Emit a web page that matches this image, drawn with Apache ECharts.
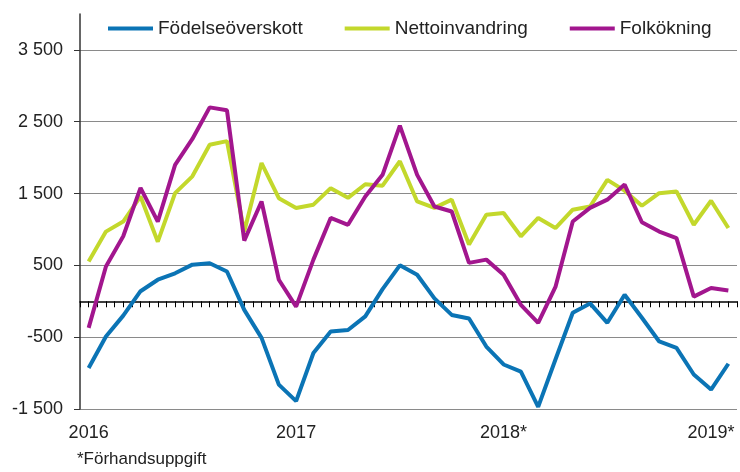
<!DOCTYPE html>
<html>
<head>
<meta charset="utf-8">
<script src="https://cdn.jsdelivr.net/npm/echarts@6/dist/echarts.min.js"></script>
<style>
  html, body { margin: 0; padding: 0; background: #fff; }
  #chart { width: 740px; height: 472px; }
</style>
</head>
<body>
<div id="chart"></div>
<script>
  // monthly, 2016-01 .. 2019-02
  let months = ['2016-01','2016-02','2016-03','2016-04','2016-05','2016-06','2016-07','2016-08','2016-09','2016-10','2016-11','2016-12',
                '2017-01','2017-02','2017-03','2017-04','2017-05','2017-06','2017-07','2017-08','2017-09','2017-10','2017-11','2017-12',
                '2018-01','2018-02','2018-03','2018-04','2018-05','2018-06','2018-07','2018-08','2018-09','2018-10','2018-11','2018-12',
                '2019-01','2019-02'];
  let yearLabels = ['2016', '2017', '2018*', '2019*'];
  let yTicks = [-1500, -500, 500, 1500, 2500, 3500];

  let fodelseoverskott = [-930, -490, -200, 140, 300, 390, 510, 530, 415, -120, -510, -1160,
                          -1390, -720, -420, -400, -210, 170, 500, 370, 40, -190, -240, -630,
                          -880, -980, -1470, -810, -160, -30, -300, 90, -230, -560, -650, -1020,
                          -1230, -870];
  let nettoinvandring = [555, 970, 1110, 1460, 830, 1505, 1740, 2180, 2230, 970, 1925, 1435,
                         1300, 1345, 1575, 1440, 1630, 1610, 1950, 1390, 1300, 1415, 790, 1205,
                         1230, 905, 1160, 1020, 1275, 1320, 1690, 1540, 1330, 1505, 1530, 1065,
                         1400, 1020];
  let folkokning = [-370, 485, 905, 1580, 1110, 1900, 2260, 2700, 2660, 845, 1390, 300,
                    -75, 580, 1160, 1065, 1460, 1760, 2445, 1760, 1320, 1250, 535, 580,
                    370, -50, -300, 200, 1110, 1300, 1415, 1625, 1100, 970, 880, 65,
                    185, 150];

  let font = 'Liberation Sans, Arial, sans-serif';

  function pairs(arr) {
    return arr.map(function (v, i) { return [i, v]; });
  }
  function fmt(v) {
    let s = String(Math.abs(v)).replace(/\B(?=(\d{3})+(?!\d))/g, ' ');
    return (v < 0 ? '-' : '') + s;
  }

  let chart = echarts.init(document.getElementById('chart'));
  let option = {
    animation: false,
    textStyle: { fontFamily: font },
    grid: {
      left: 80,
      right: -1,
      top: 14,
      bottom: 63,
      containLabel: false
    },
    title: {
      text: '*Förhandsuppgift',
      left: 77,
      top: 451,
      padding: 0,
      textStyle: { fontFamily: font, fontSize: 17, fontWeight: 'normal', color: '#222' }
    },
    legend: {
      left: 108,
      top: 19,
      itemWidth: 45,
      itemHeight: 4,
      itemGap: 42,
      icon: 'rect',
      padding: 0,
      textStyle: { fontFamily: font, fontSize: 19, color: '#222' },
      data: ['Födelseöverskott', 'Nettoinvandring', 'Folkökning']
    },
    xAxis: [
      {
        // line on zero with half-month ticks
        type: 'value',
        min: -0.5,
        max: months.length - 0.5,
        interval: 0.5,
        axisLine: { onZero: true, lineStyle: { color: '#000', width: 1.5 } },
        axisTick: { show: true, length: 6, lineStyle: { color: '#000', width: 1 } },
        axisLabel: { show: false },
        splitLine: { show: false }
      },
      {
        // year labels at the bottom
        type: 'value',
        position: 'bottom',
        min: -0.5,
        max: months.length - 0.5,
        interval: 0.5,
        axisLine: { show: false, onZero: false },
        axisTick: { show: false },
        splitLine: { show: false },
        axisLabel: {
          margin: 15,
          fontFamily: font,
          fontSize: 18,
          color: '#222',
          showMinLabel: true,
          showMaxLabel: true,
          formatter: function (v) {
            if (v >= 0 && v % 12 === 0) return yearLabels[v / 12] || '';
            return '';
          }
        }
      }
    ],
    yAxis: {
      type: 'value',
      min: yTicks[0],
      max: 4000,
      interval: 1000,
      axisLine: { show: true, onZero: false, lineStyle: { color: '#333', width: 1.5 } },
      axisTick: { show: true, length: 6, lineStyle: { color: '#333' } },
      axisLabel: {
        margin: 17,
        fontFamily: font,
        fontSize: 18,
        color: '#222',
        showMaxLabel: false,
        formatter: function (v) {
          return yTicks.indexOf(v) >= 0 ? fmt(v) : '';
        }
      },
      splitLine: {
        show: true,
        showMinLine: true,
        showMaxLine: false,
        lineStyle: { color: '#8a8a8a', width: 1.2 }
      }
    },
    series: [
      {
        name: 'Födelseöverskott',
        type: 'line',
        xAxisIndex: 0,
        data: pairs(fodelseoverskott),
        symbol: 'none',
        color: '#0b74b5',
        lineStyle: { width: 4, color: '#0b74b5' }
      },
      {
        name: 'Nettoinvandring',
        type: 'line',
        xAxisIndex: 0,
        data: pairs(nettoinvandring),
        symbol: 'none',
        color: '#c3d82c',
        lineStyle: { width: 4, color: '#c3d82c' }
      },
      {
        name: 'Folkökning',
        type: 'line',
        xAxisIndex: 0,
        data: pairs(folkokning),
        symbol: 'none',
        color: '#a2168e',
        lineStyle: { width: 4, color: '#a2168e' }
      }
    ]
  };
  chart.setOption(option);
</script>
</body>
</html>
